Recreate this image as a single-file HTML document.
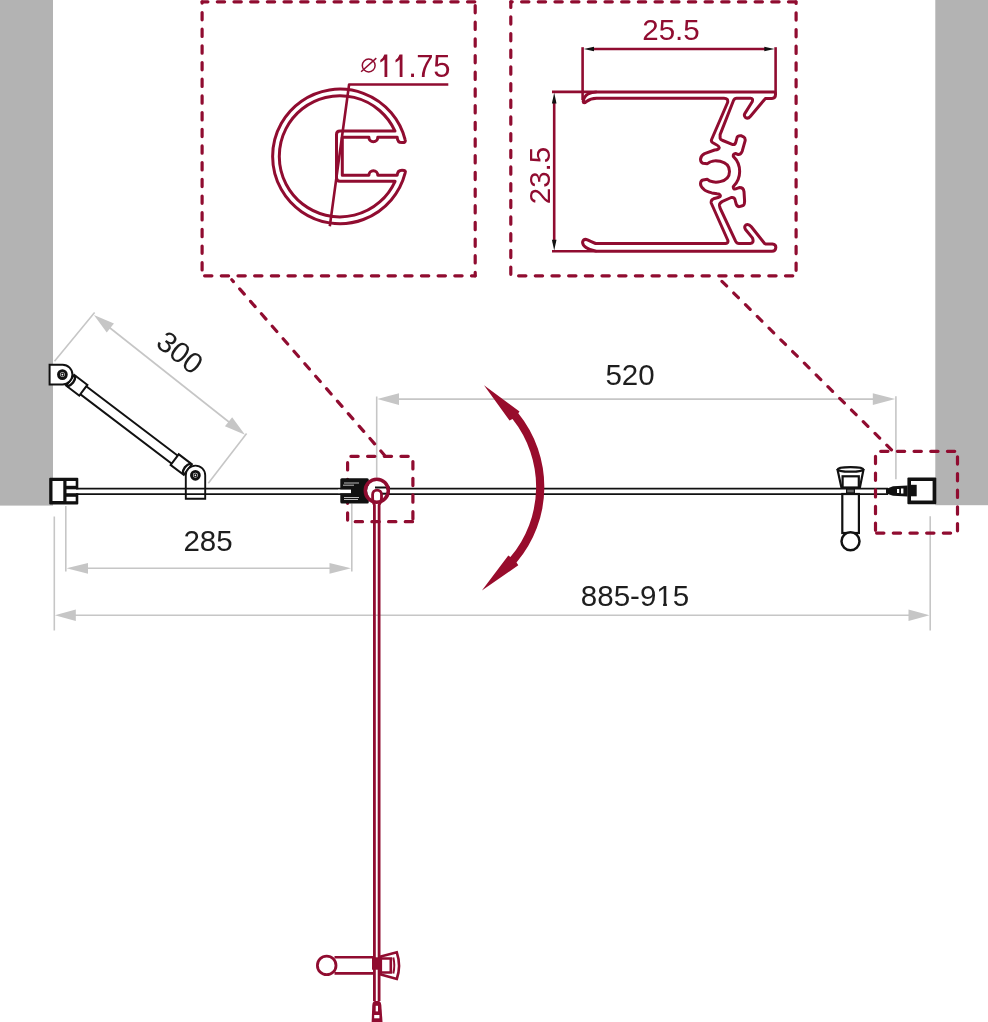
<!DOCTYPE html>
<html><head><meta charset="utf-8">
<style>
html,body{margin:0;padding:0;background:#fff;}
body{width:988px;height:1022px;overflow:hidden;}
svg{display:block;will-change:transform;}
text{font-family:"Liberation Sans", sans-serif;}
</style></head>
<body>
<svg width="988" height="1022" viewBox="0 0 988 1022">
<rect x="0" y="0" width="53" height="505.6" fill="#b3b3b3"/>
<rect x="935.3" y="0" width="52.7" height="505.2" fill="#b3b3b3"/>
<g stroke="#c6c6c6" stroke-width="1.6" fill="none">
  <line x1="65.8" y1="506" x2="65.8" y2="571.5"/>
  <line x1="351.8" y1="503.5" x2="351.8" y2="571.5"/>
  <line x1="80" y1="568.3" x2="340" y2="568.3"/>
  <line x1="54.3" y1="516.5" x2="54.3" y2="630.5"/>
  <line x1="930.2" y1="516.3" x2="930.2" y2="630.5"/>
  <line x1="70" y1="615.3" x2="915" y2="615.3"/>
  <line x1="376.7" y1="396.5" x2="376.7" y2="477.5"/>
  <line x1="895.9" y1="396.2" x2="895.9" y2="479.3"/>
  <line x1="392" y1="399.1" x2="880" y2="399.1"/>
  <line x1="54.5" y1="361.3" x2="94.6" y2="312.5"/>
  <line x1="208.3" y1="483.3" x2="246.6" y2="433.5"/>
  <line x1="105" y1="324" x2="234" y2="426"/>
</g>
<g fill="#c6c6c6">
  <polygon points="66.5,568.3 88,562.9 88,573.7"/>
  <polygon points="351,568.3 329.5,562.9 329.5,573.7"/>
  <polygon points="54.8,615.3 75.8,609.5 75.8,621.1"/>
  <polygon points="929.5,615.3 908.5,609.5 908.5,621.1"/>
  <polygon points="377.3,399.1 399,393.3 399,404.9"/>
  <polygon points="895.2,399.1 872.8,393.3 872.8,404.9"/>
  <g transform="translate(93.9,315) rotate(38.4)"><polygon points="0,0 21,-5.8 21,5.8"/></g>
  <g transform="translate(245,434.8) rotate(218.4)"><polygon points="0,0 21,-5.8 21,5.8"/></g>
</g>
<g fill="#1e1e1e" font-size="29.5">
  <text x="208" y="551" text-anchor="middle">285</text>
  <text x="630" y="384.8" text-anchor="middle">520</text>
  <text x="635" y="606.4" text-anchor="middle">885-915</text>
  <text transform="translate(180.2,352.2) rotate(38.4)" x="0" y="10.5" text-anchor="middle">300</text>
</g>
<g fill="#fff"><rect x="657.5" y="602.6" width="5.6" height="3.6"/><rect x="666.9" y="602.6" width="5.3" height="3.6"/></g>
<g stroke="#900c30" stroke-width="3" fill="none" stroke-linejoin="round">
  <path d="M 405.1,139.6 A 67.3,67.3 0 1 0 405.1,173.2 Q 406.5,170.2 402,170.2 Q 397.5,170.2 397.2,175.2 L 377.8,175.2 A 4.45,4.45 0 0 0 368.9,175.2 L 342.3,175.2 L 342.3,137.3 L 368.9,137.3 A 4.45,4.45 0 0 0 377.8,137.3 L 397.2,137.3 Q 397.5,142.6 402,142.6 Q 406.5,142.6 405.1,139.6 Z"/>
  <path d="M 395.0,131.1 A 60.6,60.6 0 1 0 395.1,181.3 L 340,181.3 Q 336.5,181.3 336.5,177.8 L 336.5,134.6 Q 336.5,131.1 340,131.1 Z"/>
  <polyline points="329.8,226.2 349.1,84.5 448.3,84.5" stroke-width="2.6"/>
  <circle cx="368.7" cy="65.5" r="6.4" stroke-width="1.5"/>
  <line x1="361.1" y1="71.8" x2="376.3" y2="58.1" stroke-width="1.5"/>
</g>
<g fill="#900c30" font-size="31"><path transform="translate(0,0)" d="M 384.4,54.6 L 387.3,54.6 L 387.3,76.9 L 384.5,76.9 L 384.5,59.6 Q 382.6,61.4 380.3,62.6 L 380.3,59.9 Q 383.2,58.2 384.4,54.6 Z"/><path transform="translate(15.2,0)" d="M 384.4,54.6 L 387.3,54.6 L 387.3,76.9 L 384.5,76.9 L 384.5,59.6 Q 382.6,61.4 380.3,62.6 L 380.3,59.9 Q 383.2,58.2 384.4,54.6 Z"/><text x="408.2" y="77.4">.</text><text x="416.3" y="77.4">7</text><text x="433.2" y="77.4">5</text></g>
<g stroke="#900c30" stroke-width="3" fill="none" stroke-linejoin="round">
  <path d="M 596.7,91.9 L 774,91.9 Q 775.5,91.9 775.5,94.5 Q 775.5,98.4 772,98.4 L 765.4,98.5 L 750.5,116.2 Q 748,119.2 745.5,117.5 Q 743.6,115.5 744.8,113.6 L 752.2,101.8 Q 753.5,98.2 750.5,98.2 L 736.6,98.2 Q 734.5,98.2 733.6,100.3 L 720.1,134.6 L 720.1,138.2 Q 720.3,139.5 722.8,140.5 L 732.8,144.6 Q 735,144.8 735.6,142.8 L 737.1,137.3 Q 737.8,135.4 741,135.7 L 743.5,136.8 Q 745.6,138 745.1,140.9 L 742.2,151.2 Q 741,154.5 738.3,154.6 L 735.5,153.5 Q 733,153.8 733.3,156.4 A 21 21 0 0 1 733.3,186.5 Q 733,189.5 735.7,188.9 L 739.2,187.6 Q 743.5,187.5 744,191.7 L 744.6,201.2 Q 744.5,205.5 742.4,205.8 L 739.5,206.6 Q 736.5,207 735.7,202.3 L 735,199.5 Q 734.2,197 731.2,197.5 L 722.5,201.3 Q 719.2,203 719.5,205.5 Q 719.8,207.5 720.5,209 L 735.7,241.3 Q 736.8,243.5 739,243.5 L 750.2,243.5 Q 754.5,243 752.4,237.9 L 745.5,229.5 Q 743.8,226.5 745.7,225.1 Q 748.5,223.5 751.3,226.8 L 764.6,243.5 Q 765.5,244.1 767.5,244.1 L 772.4,244.1 Q 776,244.5 775.8,247.6 Q 775.5,251.3 772,251.3 L 596.4,251.2 Q 590,250.5 586,247.5 Q 582,244.5 582.7,241.5 Q 584,238.5 587.5,239.8 Q 591,241.5 595.6,243.5 L 725.7,243.5 Q 728.5,243 727.9,240.5 L 711.2,203 Q 710.8,199.8 713.5,198.8 L 719,197.2 Q 721,196.5 720.1,195 Q 719.5,193.8 717,193.8 L 711.9,192.9 Q 706,191.5 703.7,189.2 Q 700.5,186.5 700.5,183.8 Q 700.6,180.5 703,180 L 707.3,179.2 C 712,184.5 729.5,183 729.5,171.45 C 729.5,160 712,158.5 707.3,163.7 L 703,163.2 Q 700.6,162.5 700.5,159.2 Q 701,155.5 704.6,153.7 L 714.6,150 Q 719.5,149.5 719.2,147.5 Q 719,146 716,144.5 L 712.8,142.8 Q 710.8,141.5 711.6,139.5 L 727.6,102.5 Q 728.5,98.3 724,98.3 L 596.7,98.3 Q 590.5,98.5 586.5,101.5 Q 583.5,104 583.2,101.5 Q 583.8,96.5 588,94 Q 591.5,92 596.7,91.9 Z"/>
  <polyline points="552,91.9 596.7,91.9" stroke-width="2.6"/>
  <polyline points="552,251.2 596.4,251.2" stroke-width="2.6"/>
  <line x1="554.2" y1="100" x2="554.2" y2="243" stroke-width="2.6"/>
  <line x1="582.6" y1="47.2" x2="582.6" y2="100" stroke-width="2.6"/>
  <line x1="775.6" y1="47.2" x2="775.6" y2="95" stroke-width="2.6"/>
  <line x1="592" y1="49" x2="766" y2="49" stroke-width="2.6"/>
</g>
<g fill="#111111">
  <polygon points="554.2,92.7 551.9,103.5 556.5,103.5"/>
  <polygon points="554.2,250.5 551.9,239.7 556.5,239.7"/>
  <polygon points="583.8,49 594,46.8 594,51.2"/>
  <polygon points="774.5,49 764.3,46.8 764.3,51.2"/>
</g>
<text x="671" y="39.8" fill="#900c30" font-size="29.5" text-anchor="middle">25.5</text>
<text transform="translate(550,175.5) rotate(-90)" x="0" y="0" fill="#900c30" font-size="29.5" text-anchor="middle">23.5</text>
<rect x="49.2" y="477.7" width="29.1" height="26.7" rx="1" fill="#111111"/>
<rect x="52.5" y="481" width="10.8" height="20" fill="#fff"/>
<rect x="66.5" y="481" width="9.2" height="4.8" fill="#fff"/>
<rect x="66.5" y="496.8" width="9.2" height="4.4" fill="#fff"/>
<rect x="66.5" y="489.3" width="822" height="3.9" fill="#fff"/>
<g transform="translate(62.6,374.55) rotate(37.19)" stroke="#111111" stroke-width="2" fill="#fff"><rect x="12" y="-5" width="142.7" height="10"/><rect x="9.5" y="-6.7" width="16.5" height="13.4"/><rect x="140.7" y="-6.7" width="16.5" height="13.4"/><path d="M 10.9,-6.7 A 11 11 0 0 1 10.9,6.7" fill="none" stroke-width="2.4"/><path d="M 155.8,-6.7 A 11 11 0 0 0 155.8,6.7" fill="none" stroke-width="2.4"/></g>
<g stroke="#111111" fill="#fff"><path d="M 49.6,364.7 L 62.6,364.7 A 9.85 9.85 0 0 1 62.6,384.4 L 49.6,384.4 Z" stroke-width="2"/><circle cx="62.4" cy="374.6" r="3.9" stroke-width="2.9"/><circle cx="62.4" cy="374.6" r="1.4" stroke-width="1.1" fill="none"/><path d="M 185.8,498.8 L 185.8,475.3 A 9.7 9.7 0 0 1 205.2,475.3 L 205.2,498.8 Z" stroke-width="1.9"/><circle cx="195.4" cy="475.3" r="3.9" stroke-width="2.9"/><circle cx="195.4" cy="475.3" r="1.4" stroke-width="1.1" fill="none"/></g>
<g fill="#111111"><rect x="907.4" y="477.4" width="28.9" height="26.9" rx="1"/><polygon points="886,489 893,486.2 907.6,485.5 907.6,496.5 893,495.8 886,493.5"/></g><rect x="911" y="481" width="21.6" height="19.5" fill="#fff"/><rect x="911" y="484.8" width="5.7" height="11.5" fill="#111111"/><g fill="#fff"><rect x="897" y="489" width="2.2" height="4"/><rect x="901" y="488.5" width="2.4" height="5"/></g>
<g stroke="#111111" stroke-width="2.2" fill="#fff"><rect x="842.3" y="494" width="16.6" height="39"/><circle cx="850.5" cy="541.2" r="9" stroke-width="2.5"/><path d="M 837.6,470 L 841.4,487.5 L 859.9,487.5 L 863.4,470 Z"/><ellipse cx="850.5" cy="469.4" rx="12.9" ry="2.3"/><rect x="842.6" y="476.3" width="16.2" height="11.2"/></g>
<g stroke="#111111" stroke-width="1.75"><line x1="76" y1="488.5" x2="888" y2="488.5"/><line x1="76" y1="494" x2="888" y2="494"/></g>
<rect x="846.6" y="489.1" width="7.8" height="3.8" fill="#666" stroke="#111111" stroke-width="1.2"/>
<g stroke="#900c30" stroke-width="3.2" fill="none" stroke-dasharray="7.3 9.38" stroke-linecap="round"><line x1="202.1" y1="1.8" x2="475.2" y2="1.8" stroke-dashoffset="1.48"/><line x1="202.1" y1="275.8" x2="475.2" y2="275.8" stroke-dashoffset="14.18"/><line x1="202.1" y1="1.8" x2="202.1" y2="275.8" stroke-dashoffset="5.98"/><line x1="475.2" y1="1.8" x2="475.2" y2="275.8" stroke-dashoffset="12.98"/><line x1="510.8" y1="1.8" x2="796.1" y2="1.8" stroke-dashoffset="5.88"/><line x1="510.8" y1="275.8" x2="796.1" y2="275.8" stroke-dashoffset="8.88"/><line x1="510.8" y1="1.8" x2="510.8" y2="275.8" stroke-dashoffset="1.68"/><line x1="796.1" y1="1.8" x2="796.1" y2="275.8" stroke-dashoffset="5.68"/><line x1="347.6" y1="456.3" x2="412.9" y2="456.3" stroke-dashoffset="13.38"/><line x1="347.6" y1="521.7" x2="412.9" y2="521.7" stroke-dashoffset="9.06"/><line x1="347.6" y1="456.3" x2="347.6" y2="521.7" stroke-dashoffset="10.28"/><line x1="412.9" y1="456.3" x2="412.9" y2="521.7" stroke-dashoffset="11.38"/><line x1="875.5" y1="451.3" x2="957.5" y2="451.3" stroke-dashoffset="11.48"/><line x1="875.5" y1="533.1" x2="957.5" y2="533.1" stroke-dashoffset="15.58"/><line x1="875.5" y1="451.3" x2="875.5" y2="533.1" stroke-dashoffset="11.68"/><line x1="957.5" y1="451.3" x2="957.5" y2="533.1" stroke-dashoffset="11.18"/><line x1="231.8" y1="279.8" x2="384.3" y2="455" stroke-dashoffset="4.54" stroke-dasharray="7.0 9.54"/><line x1="720.8" y1="280.2" x2="891.9" y2="450.2" stroke-dashoffset="15.00" stroke-dasharray="6.6 10.00"/></g>
<rect x="340.3" y="478.2" width="28.5" height="25.2" rx="1.5" fill="#111111"/>
<rect x="338" y="489.6" width="13" height="3.5" fill="#fff"/>
<g stroke="#fff" stroke-width="0.9" opacity="0.8"><line x1="344" y1="483" x2="359" y2="483"/><line x1="343" y1="485.2" x2="354" y2="485.2"/><line x1="344" y1="497.5" x2="359" y2="497.5"/><line x1="344" y1="499.5" x2="358" y2="499.5"/></g>
<path transform="translate(0.8,0)" d="M 483.2,385.3 L 518.7,411.4 L 517.5,413.3 A 117 117 0 0 1 515.7,562.6 L 517.5,565.3 L 481.1,590.5 L 507.5,555.6 L 509.6,557.1 A 109 109 0 0 0 511.7,419 L 508.7,420.5 Z" fill="#980c2c"/>
<circle cx="376.8" cy="490.7" r="9.8" fill="#fff"/>
<g stroke="#111111" stroke-width="2"><line x1="375" y1="487.5" x2="390" y2="487.5"/><line x1="382" y1="493.7" x2="390" y2="493.7"/></g>
<g stroke="#900c30" fill="none"><path d="M 374.4,1001 L 374.4,505 Q 372.6,502 372.6,498 L 372.6,494.5 A 4.45 4.45 0 0 1 381.5,494.5 L 381.5,498 Q 381.5,502 379.1,505 L 379.1,1001" stroke-width="2.8"/><circle cx="376.8" cy="490.7" r="11.5" stroke-width="3.5"/></g><path d="M 371.6,1023 L 372.3,1005 Q 372.8,1001 375,1001 L 378.5,1001 Q 380.8,1001 381.3,1005 L 382.6,1023 Z" fill="#900c30"/><rect x="375.7" y="1005.8" width="2.3" height="5.6" fill="#fff"/><rect x="374.2" y="1015" width="5.2" height="3.3" fill="#fff"/>
<g stroke="#900c30" stroke-width="2.6" fill="#fff"><path d="M 334.5,957.3 L 373,957.3 M 334.5,973.4 L 373,973.4" fill="none"/><circle cx="326.7" cy="965.4" r="9.3" stroke-width="2.8"/><path d="M 380.8,956.5 L 396.8,952.3 Q 401.3,965.6 396.8,979 L 380.8,974.5 Z"/><path d="M 380.8,958.5 L 390.8,958.5 L 390.8,972.5 L 380.8,972.5" fill="none"/><path d="M 393.3,957.5 Q 395.3,965.5 393.3,973.5" fill="none" stroke-width="2"/></g><rect x="372" y="957.3" width="8.8" height="12.4" fill="#900c30"/>
</svg>
</body></html>
